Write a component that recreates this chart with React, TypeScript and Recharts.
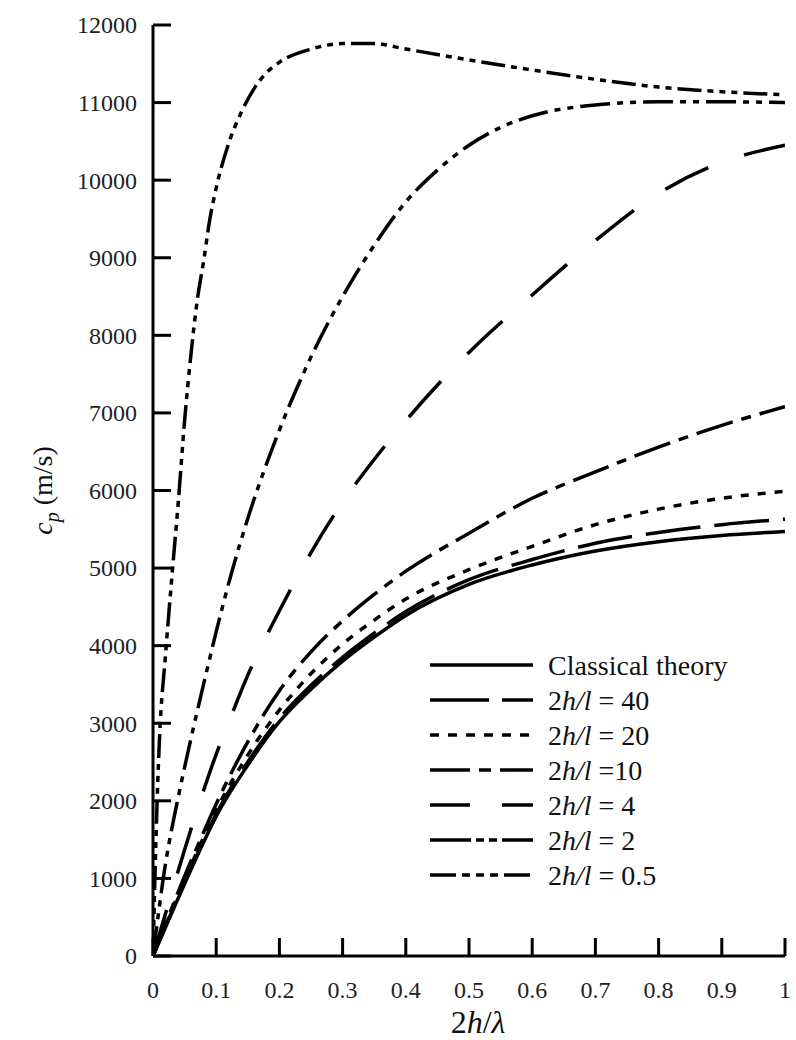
import React from "react"
import { LineChart, Line, XAxis, YAxis, Legend, Label } from "recharts"

// phase velocity c_p (m/s) against 2h/λ, one curve per 2h/l ratio
const xClassical = [0, 0.025, 0.05, 0.075, 0.1, 0.15, 0.2, 0.25, 0.3, 0.35, 0.4, 0.5, 0.6, 0.7, 0.8, 0.9, 1]
const cpClassical = [0, 470, 930, 1380, 1800, 2460, 3020, 3440, 3800, 4110, 4390, 4790, 5040, 5220, 5340, 5420, 5470]

const x40 = [0, 0.025, 0.05, 0.075, 0.1, 0.15, 0.2, 0.25, 0.3, 0.35, 0.4, 0.5, 0.6, 0.7, 0.8, 0.9, 1]
const cp40 = [0, 480, 950, 1400, 1830, 2500, 3060, 3490, 3850, 4160, 4440, 4850, 5110, 5320, 5460, 5560, 5630]

const x20 = [0, 0.025, 0.05, 0.075, 0.1, 0.15, 0.2, 0.25, 0.3, 0.35, 0.4, 0.5, 0.6, 0.7, 0.8, 0.9, 1]
const cp20 = [0, 500, 980, 1440, 1880, 2590, 3170, 3640, 4020, 4330, 4600, 4980, 5280, 5560, 5760, 5900, 5990]

const x10 = [0, 0.025, 0.05, 0.075, 0.1, 0.15, 0.2, 0.25, 0.3, 0.35, 0.4, 0.5, 0.6, 0.7, 0.8, 0.9, 1]
const cp10 = [0, 520, 1030, 1500, 1960, 2760, 3420, 3920, 4320, 4660, 4960, 5450, 5900, 6240, 6560, 6840, 7080]

const x4 = [0, 0.025, 0.05, 0.075, 0.1, 0.125, 0.15, 0.2, 0.25, 0.3, 0.35, 0.4, 0.5, 0.6, 0.7, 0.8, 0.9, 1]
const cp4 = [0, 690, 1370, 2010, 2600, 3120, 3620, 4450, 5200, 5850, 6400, 6900, 7780, 8520, 9220, 9830, 10230, 10450]

const x2 = [0, 0.02, 0.04, 0.06, 0.08, 0.1, 0.125, 0.15, 0.175, 0.2, 0.25, 0.3, 0.35, 0.4, 0.45, 0.5, 0.55, 0.6, 0.7, 0.8, 0.9, 1]
const cp2 = [0, 1200, 2050, 2800, 3500, 4180, 4960, 5640, 6240, 6780, 7720, 8500, 9160, 9720, 10130, 10450, 10680, 10830, 10970, 11010, 11010, 11000]

const x05 = [0, 0.005, 0.01, 0.02, 0.03, 0.04, 0.05, 0.06, 0.07, 0.08, 0.09, 0.1, 0.12, 0.14, 0.16, 0.18, 0.2, 0.25, 0.3, 0.35, 0.4, 0.5, 0.6, 0.7, 0.8, 0.9, 1]
const cp05 = [0, 1600, 2750, 3900, 4900, 5850, 6900, 7750, 8450, 8950, 9500, 9900, 10480, 10880, 11180, 11390, 11520, 11690, 11760, 11760, 11690, 11550, 11420, 11300, 11200, 11140, 11100]

const xTicks = [0, 0.1, 0.2, 0.3, 0.4, 0.5, 0.6, 0.7, 0.8, 0.9, 1]
const yTicks = [0, 1000, 2000, 3000, 4000, 5000, 6000, 7000, 8000, 9000, 10000, 11000, 12000]

const series = [
  { name: "Classical theory", x: xClassical, cp: cpClassical },
  { name: "2h/l = 40", x: x40, cp: cp40 },
  { name: "2h/l = 20", x: x20, cp: cp20 },
  { name: "2h/l =10", x: x10, cp: cp10 },
  { name: "2h/l = 4", x: x4, cp: cp4 },
  { name: "2h/l = 2", x: x2, cp: cp2 },
  { name: "2h/l = 0.5", x: x05, cp: cp05 },
]

const plotDash: Record<string, string | undefined> = {
  "Classical theory": undefined,
  "2h/l = 40": "55 14",
  "2h/l = 20": "8 9",
  "2h/l =10": "38 9 10 9",
  "2h/l = 4": "48 38",
  "2h/l = 2": "30 7 6 7 6 7",
  "2h/l = 0.5": "24 6 6 6 6 6 6 6",
}

const legendDash: Record<string, string | undefined> = {
  "Classical theory": undefined,
  "2h/l = 40": "59 13",
  "2h/l = 20": "9 9",
  "2h/l =10": "40 9 12 9",
  "2h/l = 4": "40 32",
  "2h/l = 2": "41 5 8 5 8 5",
  "2h/l = 0.5": "26 6 8 6 8 6 8 6",
}

const FONT = "'Liberation Serif', 'Times New Roman', Times, serif"
const txt = { fontFamily: FONT }

function XTick(props: any) {
  const { x, y, payload } = props
  return (
    <g>
      <line x1={x} y1={y} x2={x} y2={y - 18} stroke="#000" strokeWidth={3} />
      <text x={x} y={y + 34} dy="0.35em" textAnchor="middle" fontSize={24} style={txt} fill="#222">
        {String(payload.value)}
      </text>
    </g>
  )
}

function YTick(props: any) {
  const { x, y, payload } = props
  return (
    <g>
      <line x1={x} y1={y} x2={x + 18} y2={y} stroke="#000" strokeWidth={3} />
      <text x={x - 16} y={y} dy="0.35em" textAnchor="end" fontSize={24} style={txt} fill="#222">
        {String(payload.value)}
      </text>
    </g>
  )
}

function SeriesLabel({ name }: { name: string }) {
  if (!name.startsWith("2h/l")) return <tspan>{name}</tspan>
  return (
    <>
      <tspan>2</tspan>
      <tspan fontStyle="italic">h/l</tspan>
      <tspan>{name.slice(4)}</tspan>
    </>
  )
}

function LegendContent(props: any) {
  const payload: any[] = props.payload || []
  const entries = series.map((s) => payload.find((p) => p.value === s.name)).filter(Boolean)
  return (
    <svg width={370} height={250} style={{ fontFamily: FONT }}>
      {entries.map((e: any, i: number) => {
        const cy = 20 + i * 35
        return (
          <g key={e.value}>
            <line x1={10} x2={113} y1={cy} y2={cy} stroke="#000" strokeWidth={3.5} strokeDasharray={legendDash[e.value]} />
            <text x={128} y={cy} dy="0.35em" fontSize={28} style={txt} fill="#111">
              <SeriesLabel name={e.value} />
            </text>
          </g>
        )
      })}
    </svg>
  )
}

export default function App() {
  return (
    <div style={{ position: "absolute", left: 0, top: 0, background: "#fff", fontFamily: FONT }}>
      <LineChart width={796} height={1040} margin={{ top: 25, right: 11, bottom: 0, left: 73 }}>
        <XAxis
          dataKey="x"
          type="number"
          domain={[0, 1]}
          ticks={xTicks}
          allowDataOverflow
          height={84}
          tickSize={0}
          tickMargin={0}
          tickLine={false}
          axisLine={{ stroke: "#000", strokeWidth: 3 }}
          tick={<XTick />}
        >
          <Label
            content={(p: any) => {
              const vb = p.viewBox
              return (
                <text x={vb.x + vb.width / 2 + 9} y={vb.y + 66} dy="0.35em" textAnchor="middle" fontSize={32} style={txt} fill="#111">
                  <tspan>2</tspan>
                  <tspan fontStyle="italic">h</tspan>
                  <tspan>/</tspan>
                  <tspan fontStyle="italic">λ</tspan>
                </text>
              )
            }}
          />
        </XAxis>
        <YAxis
          type="number"
          domain={[0, 12000]}
          ticks={yTicks}
          allowDataOverflow
          width={80}
          tickSize={0}
          tickMargin={0}
          tickLine={false}
          axisLine={{ stroke: "#000", strokeWidth: 3 }}
          tick={<YTick />}
        >
          <Label
            content={(p: any) => {
              const vb = p.viewBox
              const cx = vb.x - 31
              const cy = vb.y + vb.height / 2
              return (
                <text x={cx} y={cy} dy="0.35em" textAnchor="middle" fontSize={28} style={txt} fill="#111" transform={`rotate(-90 ${cx} ${cy})`}>
                  <tspan fontStyle="italic">c</tspan>
                  <tspan fontStyle="italic" fontSize={20} dy={7}>p</tspan>
                  <tspan dy={-7}> (m/s)</tspan>
                </text>
              )
            }}
          />
        </YAxis>
        <Legend
          layout="horizontal"
          verticalAlign="middle"
          align="center"
          content={<LegendContent />}
          wrapperStyle={{ left: 420, top: 645, width: 370, height: 250 }}
        />
        {series.map((s) => (
          <Line
            key={s.name}
            name={s.name}
            data={s.x.map((x, i) => ({ x, cp: s.cp[i] }))}
            dataKey="cp"
            type="monotone"
            stroke="#000"
            strokeWidth={3.5}
            strokeDasharray={plotDash[s.name]}
            dot={false}
            activeDot={false}
            isAnimationActive={false}
          />
        ))}
      </LineChart>
    </div>
  )
}
